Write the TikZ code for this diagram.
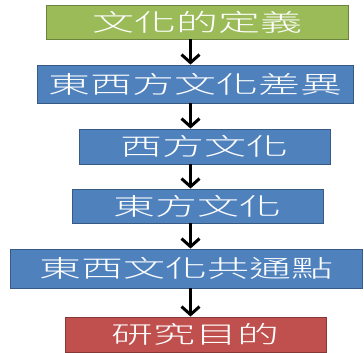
\documentclass[tikz,border=0pt]{standalone}
\usepackage{fontspec}
\newfontfamily\cjk[FakeStretch=1.75]{Noto Sans CJK TC Light}
\usetikzlibrary{arrows.meta}
\definecolor{ogreen}{HTML}{9BBB59}
\definecolor{oblue}{HTML}{4F81BD}
\definecolor{ored}{HTML}{C0504D}
\tikzset{
  box/.style={draw=#1!70!black, line width=0.8pt, fill=#1, inner sep=0pt,
    text=white, font=\cjk\fontsize{24}{24}\selectfont},
  flow/.style={line width=3pt, -{Straight Barb[length=8pt,width=18pt,line width=3pt]}}
}
\begin{document}
\begin{tikzpicture}[x=1pt,y=-1pt]
\useasboundingbox (0,0) rectangle (364,353);
\node[box=ogreen, minimum width=302pt, minimum height=34pt] (b1) at (197,22) {文化的定義};
\node[box=oblue, minimum width=316pt, minimum height=38pt] (b2) at (195,84) {東西方文化差異};
\node[box=oblue, minimum width=251pt, minimum height=35pt] (b3) at (204.5,146.5) {西方文化};
\node[box=oblue, minimum width=251pt, minimum height=34pt] (b4) at (197.5,206) {東方文化};
\node[box=oblue, minimum width=352pt, minimum height=39pt] (b5) at (186,268.5) {東西文化共通點};
\node[box=ored, minimum width=261pt, minimum height=35pt] (b6) at (195.5,334.5) {研究目的};
\coordinate (ax) at (190.5,0);
\draw[flow] (b1.south -| ax) -- (b2.north -| ax);
\draw[flow] (b2.south -| ax) -- (b3.north -| ax);
\draw[flow] (b3.south -| ax) -- (b4.north -| ax);
\draw[flow] (b4.south -| ax) -- (b5.north -| ax);
\draw[flow] (b5.south -| ax) -- (b6.north -| ax);
\end{tikzpicture}
\end{document}
